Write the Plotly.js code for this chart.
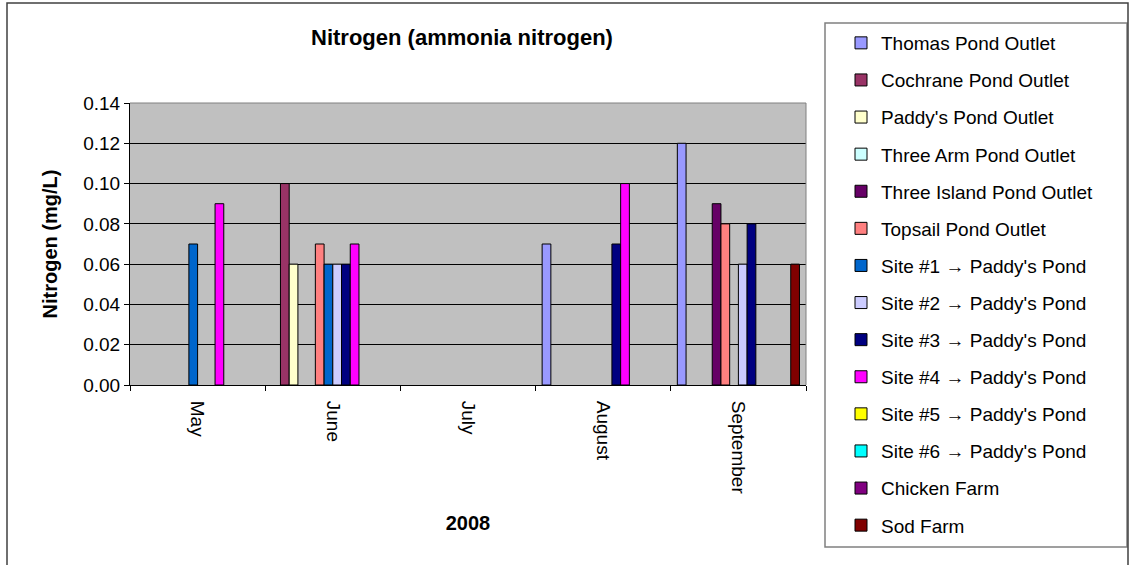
<!DOCTYPE html>
<html>
<head>
<meta charset="utf-8">
<script src="https://cdn.plot.ly/plotly-3.0.1.min.js"></script>
<style>html,body{margin:0;padding:0;background:#fff;}#chart{width:1129px;height:565px;}</style>
</head>
<body>
<div id="chart"></div>
<script>
// ---- data ----
const months = ['May', 'June', 'July', 'August', 'September'];
const seriesNames = [
  'Thomas Pond Outlet', 'Cochrane Pond Outlet', "Paddy's Pond Outlet",
  'Three Arm Pond Outlet', 'Three Island Pond Outlet', 'Topsail Pond Outlet',
  "Site #1 \u2192 Paddy's Pond", "Site #2 \u2192 Paddy's Pond", "Site #3 \u2192 Paddy's Pond",
  "Site #4 \u2192 Paddy's Pond", "Site #5 \u2192 Paddy's Pond", "Site #6 \u2192 Paddy's Pond",
  'Chicken Farm', 'Sod Farm'
];
const thomas      = [null, null, null, 0.07, 0.12];
const cochrane    = [null, 0.10, null, null, null];
const paddys      = [null, 0.06, null, null, null];
const threeArm    = [null, null, null, null, null];
const threeIsland = [null, null, null, null, 0.09];
const topsail     = [null, 0.07, null, null, 0.08];
const site1       = [0.07, 0.06, null, null, null];
const site2       = [null, 0.06, null, null, 0.06];
const site3       = [null, 0.06, null, 0.07, 0.08];
const site4       = [0.09, 0.07, null, 0.10, null];
const site5       = [null, null, null, null, null];
const site6       = [null, null, null, null, null];
const chicken     = [null, null, null, null, null];
const sod         = [null, null, null, null, 0.06];
const seriesValues = [thomas, cochrane, paddys, threeArm, threeIsland, topsail,
  site1, site2, site3, site4, site5, site6, chicken, sod];
const seriesColors = ['#9999FF', '#993366', '#FFFFCC', '#CCFFFF', '#660066', '#FF8080',
  '#0066CC', '#CCCCFF', '#000080', '#FF00FF', '#FFFF00', '#00FFFF', '#800080', '#800000'];
const yTicks = [0, 0.02, 0.04, 0.06, 0.08, 0.10, 0.12, 0.14];

// ---- layout helpers (pixel -> paper) ----
const W = 1129, H = 565;
const PL = 130, PR = 806, PT = 103, PB = 385;
const px = v => (v - PL) / (PR - PL);
const py = v => (PB - v) / (PB - PT);
const FONT = 'Arial, "Liberation Sans", sans-serif';

const traces = seriesNames.map((name, i) => ({
  type: 'bar',
  name: name,
  x: months,
  y: seriesValues[i],
  legendgroup: 'g' + i,
  marker: { color: seriesColors[i], line: { color: '#000000', width: 1 } },
  hoverinfo: 'x+y+name'
}));

const layout = {
  width: W, height: H,
  margin: { l: PL, r: W - PR, t: PT, b: H - PB, pad: 0 },
  paper_bgcolor: '#FFFFFF',
  plot_bgcolor: '#C0C0C0',
  font: { family: FONT, size: 19, color: '#000000' },
  barmode: 'group',
  bargap: 1.5 / 15.5,
  bargroupgap: 0,
  title: {
    text: 'Nitrogen (ammonia nitrogen)',
    font: { family: FONT, size: 22, color: '#000000', weight: 'bold' },
    xref: 'container', yref: 'container',
    x: 462 / W, xanchor: 'center',
    y: 1 - 37 / H, yanchor: 'middle'
  },
  xaxis: {
    type: 'category',
    categoryorder: 'array', categoryarray: months,
    tickson: 'boundaries',
    ticks: 'outside', ticklen: 5, tickcolor: '#000000', tickwidth: 1,
    tickangle: 90,
    ticklabelstandoff: 11,
    tickfont: { family: FONT, size: 19, color: '#000000' },
    showline: true, linecolor: '#000000', linewidth: 1,
    showgrid: false, zeroline: false,
    title: { text: '2008', font: { family: FONT, size: 20, color: '#000000', weight: 'bold' }, standoff: 22 },
    fixedrange: true
  },
  yaxis: {
    range: [0, 0.14],
    tickvals: yTicks,
    tickformat: '.2f',
    ticks: 'outside', ticklen: 5, tickcolor: '#000000', tickwidth: 1,
    tickfont: { family: FONT, size: 19, color: '#000000' },
    showline: true, linecolor: '#000000', linewidth: 1,
    showgrid: true, gridcolor: '#000000', gridwidth: 1,
    zeroline: false,
    title: { text: 'Nitrogen (mg/L)', font: { family: FONT, size: 20, color: '#000000', weight: 'bold' }, standoff: 20 },
    fixedrange: true
  },
  showlegend: true,
  legend: {
    x: px(841), xanchor: 'left', xref: 'paper',
    y: py(24), yanchor: 'top', yref: 'paper',
    traceorder: 'grouped',
    tracegroupgap: 9.4,
    maxheight: 560,
    bgcolor: 'rgba(0,0,0,0)',
    borderwidth: 0,
    font: { family: FONT, size: 19, color: '#000000' }
  },
  shapes: [
    // plot-area border (top and right)
    { type: 'line', xref: 'paper', yref: 'paper', x0: 0, x1: 1, y0: 1, y1: 1, line: { color: '#808080', width: 1 } },
    { type: 'line', xref: 'paper', yref: 'paper', x0: 1, x1: 1, y0: 0, y1: 1, line: { color: '#808080', width: 1 } },
    // legend frame
    { type: 'rect', xref: 'paper', yref: 'paper', x0: px(825), x1: px(1127), y0: py(547), y1: py(23), line: { color: '#808080', width: 1.5 }, fillcolor: 'rgba(0,0,0,0)' },
    // outer chart frame
    { type: 'rect', xref: 'paper', yref: 'paper', x0: px(7), x1: px(1128), y0: py(600), y1: py(3), line: { color: '#404040', width: 1.5 }, fillcolor: 'rgba(0,0,0,0)' }
  ]
};

Plotly.newPlot('chart', traces, layout, { displayModeBar: false, staticPlot: true });
</script>
</body>
</html>
